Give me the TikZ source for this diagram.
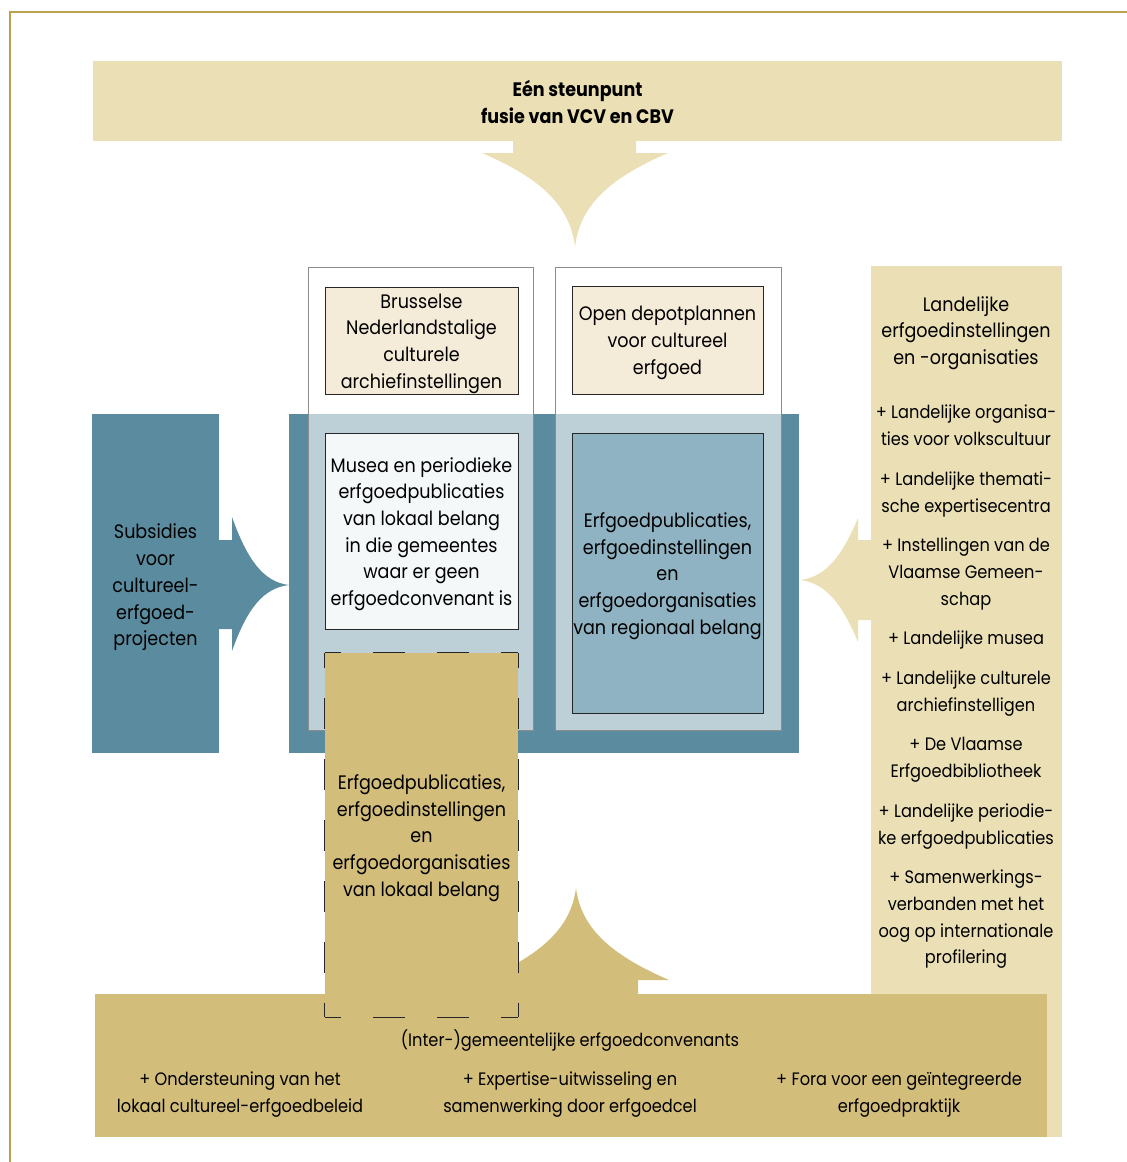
\documentclass[tikz,border=0pt]{standalone}
\usepackage{fontspec}
\setmainfont{Poppins}[FakeStretch=0.9]
\usetikzlibrary{positioning}

\definecolor{steunbeige}{HTML}{EBE0B5}
\definecolor{subsblue}{HTML}{5A8B9E}
\definecolor{regblue}{HTML}{8FB3C2}
\definecolor{convtan}{HTML}{D2BD7B}
\definecolor{archcream}{HTML}{F5EBD9}
\definecolor{museawhite}{HTML}{F4F8F9}
\definecolor{framegold}{HTML}{B9A14E}

\newcommand{\boxfont}{\fontsize{19.5}{26.7}\selectfont}
\newcommand{\listfont}{\fontsize{18}{26.7}\selectfont}

\begin{document}
\begin{tikzpicture}[x=1pt,y=-1pt]
	\tikzstyle{band} = [rectangle, inner sep=0pt]
	\tikzstyle{column} = [rectangle, draw=black!45, fill=white, fill opacity=0.6, inner sep=0pt, minimum width=225pt, minimum height=463pt]
	\tikzstyle{inner_box} = [rectangle, draw=black!85, line width=0.7pt, inner sep=0pt, minimum width=193pt]
	\tikzstyle{dash_h} = [black!85, line width=0.9pt, dash pattern=on 32pt off 32pt, dash phase=16pt]
	\tikzstyle{dash_v} = [black!85, line width=0.9pt, dash pattern=on 30.5pt off 30.5pt, dash phase=15.5pt]
	\tikzstyle{plain_text} = [align=center, inner sep=0pt, font=\boxfont, yshift=-3pt]
	\tikzstyle{list_text} = [align=center, inner sep=0pt, font=\listfont, yshift=-2.5pt]

	\useasboundingbox (0,0) rectangle (1127,1162);
	% Frame
	\draw[framegold, line width=1.5pt] (10,1162) -- (10,12) -- (1127,12);

	% Steunpunt on top
	\node (steunpunt) [band, fill=steunbeige, minimum width=969pt, minimum height=80pt] at (577.5,101) {};
	\node [plain_text, font=\boxfont\bfseries, yshift=2pt] at (steunpunt.center) {Eén steunpunt\\fusie van VCV en CBV};
	\fill[steunbeige] (513,140) -- (513,153) -- (482,153) .. controls (540,178) and (570,205) .. (575,247)
		.. controls (580,205) and (610,178) .. (668,153) -- (636,153) -- (636,140) -- cycle;

	% Subsidies
	\node (subsidies) [band, fill=subsblue, minimum width=127pt, minimum height=339pt] at (155.5,583.5) {};
	\node [plain_text, yshift=-1pt] at (subsidies.center) {Subsidies\\voor\\cultureel-\\erfgoed-\\projecten};
	\fill[subsblue] (218,540) -- (232,540) -- (232,517) .. controls (247,559) and (263,582) .. (289,585)
		.. controls (263,588) and (247,609) .. (232,651) -- (232,629) -- (218,629) -- cycle;

	% Central block
	\node (centre) [band, fill=subsblue, minimum width=510pt, minimum height=339pt] at (544,583.5) {};
	\node (colL) [column] at (420.5,498.5) {};
	\node (colR) [column, minimum width=226pt] at (668,498.5) {};
	\node (archief) [inner_box, fill=archcream, minimum height=107pt] at (421.5,340.5) {};
	\node [plain_text] at (archief.center) {Brusselse\\Nederlandstalige\\culturele\\archiefinstellingen};
	\node (depot) [inner_box, fill=archcream, minimum width=191pt, minimum height=108pt] at (667.5,340) {};
	\node [plain_text] at (depot.center) {Open depotplannen\\voor cultureel\\erfgoed};
	\node (musea) [inner_box, fill=museawhite, minimum height=196pt] at (421.5,531) {};
	\node [plain_text] at (musea.center) {Musea en periodieke\\erfgoedpublicaties\\van lokaal belang\\in die gemeentes\\waar er geen\\erfgoedconvenant is};
	\node (regionaal) [inner_box, fill=regblue, minimum width=191pt, minimum height=280pt] at (667.5,573) {};
	\node [plain_text] at (regionaal.center) {Erfgoedpublicaties,\\erfgoedinstellingen\\en\\erfgoedorganisaties\\van regionaal belang};

	% Landelijke instellingen
	\node (landelijk) [band, fill=steunbeige, minimum width=191pt, minimum height=871pt] at (966.5,701.5) {};
	\node (landelijk_kop) [plain_text] at (966,330) {Landelijke\\erfgoedinstellingen\\en -organisaties};
	\node (landelijk_lijst) [list_text] at (966,684.5) {+ Landelijke organisa-\\ties voor volkscultuur\\[13pt]
		+ Landelijke themati-\\sche expertisecentra\\[13pt]
		+ Instellingen van de\\Vlaamse Gemeen-\\schap\\[13pt]
		+ Landelijke musea\\[13pt]
		+ Landelijke culturele\\archiefinstelligen\\[13pt]
		+ De Vlaamse\\Erfgoedbibliotheek\\[13pt]
		+ Landelijke periodie-\\ke erfgoedpublicaties\\[13pt]
		+ Samenwerkings-\\verbanden met het\\oog op internationale\\profilering};
	\fill[steunbeige] (872,540) -- (858,540) -- (858,518) .. controls (842,556) and (826,577) .. (800,580)
		.. controls (826,583) and (842,604) .. (858,642) -- (858,620) -- (872,620) -- cycle;

	% Convenants at the bottom
	\node (convenant) [band, fill=convtan, minimum width=952pt, minimum height=143pt] at (571,1065.5) {};
	\fill[convtan] (514,995) -- (514,980) -- (483,980) .. controls (541,955) and (571,928) .. (576,888)
		.. controls (581,928) and (611,955) .. (669,980) -- (638,980) -- (638,995) -- cycle;
	\node (convenant_kop) [list_text] at (570,1038) {(Inter-)gemeentelijke erfgoedconvenants};
	\node (beleid) [list_text] at (240,1092) {+ Ondersteuning van het\\lokaal cultureel-erfgoedbeleid};
	\node (erfgoedcel) [list_text] at (570,1092) {+ Expertise-uitwisseling en\\samenwerking door erfgoedcel};
	\node (fora) [list_text] at (899,1092) {+ Fora voor een geïntegreerde\\erfgoedpraktijk};

	% Lokaal belang, over the rest
	\node (lokaal) [band, fill=convtan, minimum width=193pt, minimum height=364pt] at (421.5,835) {};
	\node [plain_text] at (lokaal.center) {Erfgoedpublicaties,\\erfgoedinstellingen\\en\\erfgoedorganisaties\\van lokaal belang};
	\draw[dash_h] (lokaal.north west) -- (lokaal.north east);
	\draw[dash_h] (lokaal.south west) -- (lokaal.south east);
	\draw[dash_v] (lokaal.north west) -- (lokaal.south west);
	\draw[dash_v] (lokaal.north east) -- (lokaal.south east);
\end{tikzpicture}
\end{document}
